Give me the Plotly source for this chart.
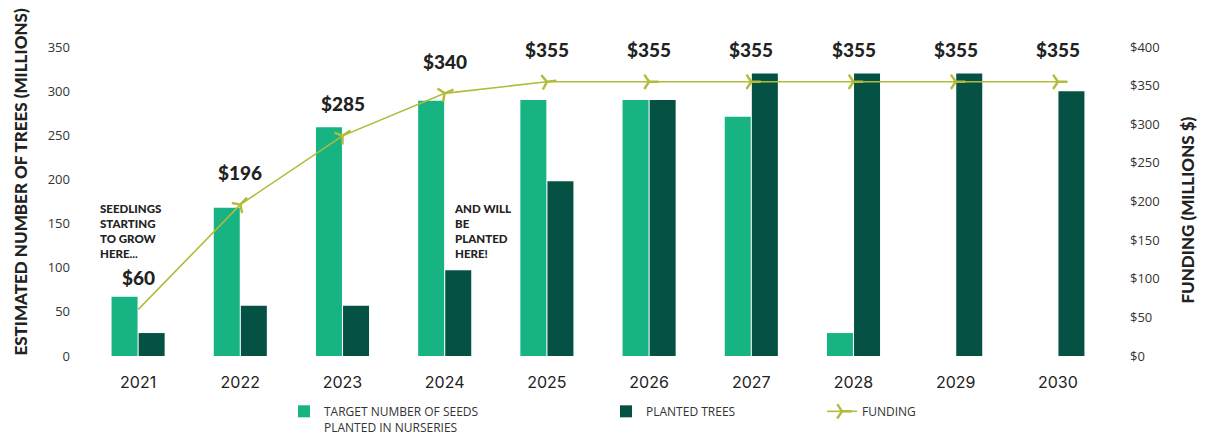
import plotly.graph_objects as go

years = ["2021", "2022", "2023", "2024", "2025", "2026", "2027", "2028", "2029", "2030"]
target_seeds = [67, 168, 259, 289, 290, 290, 271, 26, None, None]
planted_trees = [26, 57, 57, 97, 198, 290, 320, 320, 320, 300]
funding = [60, 196, 285, 340, 355, 355, 355, 355, 355, 355]
funding_labels = ["$60", "$196", "$285", "$340", "$355", "$355", "$355", "$355", "$355", "$355"]
left_ticks = [0, 50, 100, 150, 200, 250, 300, 350]
right_ticks = [0, 50, 100, 150, 200, 250, 300, 350, 400]
right_tick_text = ["$0", "$50", "$100", "$150", "$200", "$250", "$300", "$350", "$400"]

C_TARGET = "#17B383"
C_PLANTED = "#055244"
C_FUND = "#B2BB3A"
HEAVY = "Lato"
TXT = "#222222"
LEG_FONT = dict(family="Open Sans", size=12, color="#333333")

fig = go.Figure()
fig.add_trace(go.Bar(
    x=years, y=target_seeds, name="TARGET NUMBER OF SEEDS<br>PLANTED IN NURSERIES",
    marker=dict(color=C_TARGET, line=dict(width=0)), yaxis="y", legend="legend"))
fig.add_trace(go.Bar(
    x=years, y=planted_trees, name="PLANTED TREES",
    marker=dict(color=C_PLANTED, line=dict(width=0)), yaxis="y", legend="legend2"))
fig.add_trace(go.Scatter(
    x=years, y=funding, name="FUNDING", yaxis="y2", mode="lines+markers",
    line=dict(color=C_FUND, width=1.6), legend="legend3",
    marker=dict(symbol="y-up", size=12, angleref="previous",
                line=dict(color=C_FUND, width=2.4), color=C_FUND)))

for i, (v, lab) in enumerate(zip(funding, funding_labels)):
    fig.add_annotation(x=i, y=v, xref="x", yref="y2", text=lab, showarrow=False,
                       yshift=32, font=dict(family=HEAVY, size=19, color=TXT, weight=900))

fig.add_annotation(x=-0.39, xref="x", y=106, yref="y", xanchor="left", yanchor="bottom",
                   align="left", showarrow=False,
                   text="SEEDLINGS<br>STARTING<br>TO GROW<br>HERE...",
                   font=dict(family=HEAVY, size=11.5, color=TXT, weight=900))
fig.add_annotation(x=3.07, xref="x", y=106, yref="y", xanchor="left", yanchor="bottom",
                   align="left", showarrow=False,
                   text="AND WILL<br>BE<br>PLANTED<br>HERE!",
                   font=dict(family=HEAVY, size=11.5, color=TXT, weight=900))

fig.add_annotation(x=-0.0773, xref="paper", y=0.566, yref="paper", textangle=-90,
                   showarrow=False, text="ESTIMATED NUMBER OF TREES (MILLIONS)",
                   font=dict(family=HEAVY, size=17, color=TXT, weight=900))
fig.add_annotation(x=1.089, xref="paper", y=0.472, yref="paper", textangle=-90,
                   showarrow=False, text="FUNDING (MILLIONS $)",
                   font=dict(family=HEAVY, size=17, color=TXT, weight=900))

leg_common = dict(orientation="h", xref="container", yref="container", yanchor="top",
                  xanchor="left", y=0.0915, font=LEG_FONT, bgcolor="rgba(0,0,0,0)",
                  valign="top")

fig.update_layout(
    width=1212, height=437,
    margin=dict(l=87, r=103, t=47, b=81, autoexpand=False),
    paper_bgcolor="white", plot_bgcolor="white",
    barmode="group", bargap=0.47, bargroupgap=0.04,
    showlegend=True,
    legend=dict(x=284 / 1212, **leg_common),
    legend2=dict(x=606 / 1212, **leg_common),
    legend3=dict(x=822 / 1212, **leg_common),
    xaxis=dict(type="category", range=[-0.5, 9.5], showgrid=False, zeroline=False,
               automargin=False, showline=False, ticks="", ticklabelstandoff=15,
               tickfont=dict(family="Inter", size=16, color=TXT)),
    yaxis=dict(range=[0, 350], tickvals=left_ticks, showgrid=False, zeroline=False,
               automargin=False, showline=False, ticks="", ticklabelstandoff=16,
               tickfont=dict(family="Open Sans", size=13, color="#333333")),
    yaxis2=dict(range=[0, 400], tickvals=right_ticks, ticktext=right_tick_text,
                overlaying="y", side="right", showgrid=False, zeroline=False,
                automargin=False, showline=False, ticks="", ticklabelstandoff=20,
                tickfont=dict(family="Open Sans", size=13, color="#333333")),
)

fig.write_html("out.html", config={"displayModeBar": False},
               post_script="document.body.style.margin='0';document.body.style.padding='0';")
